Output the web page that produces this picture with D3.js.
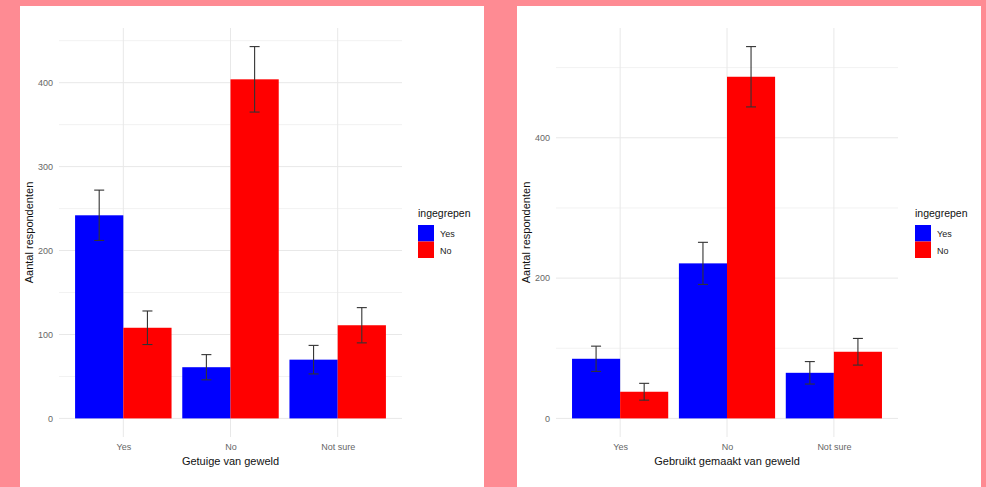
<!DOCTYPE html>
<html>
<head>
<meta charset="utf-8">
<script src="https://cdn.jsdelivr.net/npm/d3@7"></script>
<style>
  html, body { margin: 0; padding: 0; background: #fe8b93; }
  svg { display: block; }
  text { font-family: "Liberation Sans", Arial, sans-serif; }
</style>
</head>
<body>
<svg id="chart" width="986" height="487"></svg>
<script>
// ---- data ----
const categories = ["Yes", "No", "Not sure"];
const groups = ["Yes", "No"];
const legendTitle = "ingegrepen";
const yTitle = "Aantal respondenten";

const leftTitle = "Getuige van geweld";
const leftYes = [242, 61, 70];
const leftNo = [108, 404, 111];
const leftYesErr = [30, 15, 17];
const leftNoErr = [20, 39, 21];
const leftTicks = [0, 100, 200, 300, 400];
const leftMinor = [50, 150, 250, 350, 450];

const rightTitle = "Gebruikt gemaakt van geweld";
const rightYes = [85, 221, 65];
const rightNo = [38, 487, 95];
const rightYesErr = [18, 30, 16];
const rightNoErr = [12, 43, 19];
const rightTicks = [0, 200, 400];
const rightMinor = [100, 300, 500];

const colors = { "Yes": "#0000ff", "No": "#ff0000" };

const svg = d3.select("#chart");

function panel(opts) {
  const g = svg.append("g");
  g.append("rect").attr("x", opts.cardX).attr("y", 6).attr("width", 464).attr("height", 481).attr("fill", "#ffffff");

  const top = 28, bottom = 437;
  const rows = [];
  categories.forEach((c, i) => {
    rows.push({ cat: c, grp: "Yes", v: opts.yes[i], e: opts.yesErr[i] });
    rows.push({ cat: c, grp: "No", v: opts.no[i], e: opts.noErr[i] });
  });
  const maxV = d3.max(rows, d => d.v + d.e);
  const pad = maxV * 0.05;
  const y = d3.scaleLinear().domain([-pad, maxV + pad]).range([bottom, top]);
  const x = d3.scalePoint().domain(categories).range([opts.px0, opts.px1]).padding(0.6);
  const step = x.step();
  const xg = d3.scaleBand().domain(groups).range([-0.45 * step, 0.45 * step]);

  const grid = g.append("g");
  grid.selectAll("line.minor").data(opts.minor.filter(v => y(v) >= top)).join("line")
    .attr("x1", opts.px0).attr("x2", opts.px1)
    .attr("y1", d => y(d)).attr("y2", d => y(d))
    .attr("stroke", "#f2f2f2").attr("stroke-width", 1);
  grid.selectAll("line.major").data(opts.ticks).join("line")
    .attr("x1", opts.px0).attr("x2", opts.px1)
    .attr("y1", d => y(d)).attr("y2", d => y(d))
    .attr("stroke", "#e8e8e8").attr("stroke-width", 1);
  grid.selectAll("line.vert").data(categories).join("line")
    .attr("x1", d => x(d)).attr("x2", d => x(d))
    .attr("y1", top).attr("y2", bottom)
    .attr("stroke", "#e8e8e8").attr("stroke-width", 1);

  g.selectAll("rect.bar").data(rows).join("rect")
    .attr("x", d => x(d.cat) + xg(d.grp))
    .attr("width", xg.bandwidth())
    .attr("y", d => y(d.v))
    .attr("height", d => y(0) - y(d.v))
    .attr("fill", d => colors[d.grp]);

  const capW = 10;
  const eb = g.selectAll("g.eb").data(rows).join("g");
  const cx = d => x(d.cat) + xg(d.grp) + xg.bandwidth() / 2;
  eb.append("line").attr("x1", cx).attr("x2", cx)
    .attr("y1", d => y(d.v + d.e)).attr("y2", d => y(d.v - d.e))
    .attr("stroke", "#333").attr("stroke-width", 1.1);
  eb.append("line").attr("x1", d => cx(d) - capW / 2).attr("x2", d => cx(d) + capW / 2)
    .attr("y1", d => y(d.v + d.e)).attr("y2", d => y(d.v + d.e))
    .attr("stroke", "#333").attr("stroke-width", 1.1);
  eb.append("line").attr("x1", d => cx(d) - capW / 2).attr("x2", d => cx(d) + capW / 2)
    .attr("y1", d => y(d.v - d.e)).attr("y2", d => y(d.v - d.e))
    .attr("stroke", "#333").attr("stroke-width", 1.1);

  const ya = g.append("g").attr("transform", `translate(${opts.px0 - 4},0)`)
    .call(d3.axisLeft(y).tickValues(opts.ticks).tickSize(0).tickPadding(2));
  ya.select(".domain").remove();
  ya.selectAll("text").attr("fill", "#666").style("font-size", "9px");

  const xa = g.append("g").attr("transform", `translate(0,${bottom + 5})`)
    .call(d3.axisBottom(x).tickSize(0).tickPadding(2));
  xa.select(".domain").remove();
  xa.selectAll("text").attr("fill", "#666").style("font-size", "9px");

  g.append("text").attr("x", (opts.px0 + opts.px1) / 2).attr("y", 465)
    .attr("text-anchor", "middle").style("font-size", "11px").attr("fill", "#111").text(opts.title);
  g.append("text").attr("transform", `translate(${opts.yTitleX},${(top + bottom) / 2}) rotate(-90)`)
    .attr("text-anchor", "middle").style("font-size", "11px").attr("fill", "#111").text(yTitle);

  const lg = g.append("g").attr("transform", `translate(${opts.legX},0)`);
  lg.append("text").attr("x", 0).attr("y", 217).style("font-size", "10.5px").attr("fill", "#111").text(legendTitle);
  groups.forEach((k, i) => {
    lg.append("rect").attr("x", 0).attr("y", 225 + i * 16.5).attr("width", 16).attr("height", 16.5).attr("fill", colors[k]);
    lg.append("text").attr("x", 22).attr("y", 237 + i * 16.5).style("font-size", "9px").attr("fill", "#222").text(k);
  });
}

panel({ cardX: 20, px0: 59, px1: 402, yes: leftYes, no: leftNo, yesErr: leftYesErr, noErr: leftNoErr,
  ticks: leftTicks, minor: leftMinor, title: leftTitle, yTitleX: 33, legX: 418 });
panel({ cardX: 517, px0: 556, px1: 898, yes: rightYes, no: rightNo, yesErr: rightYesErr, noErr: rightNoErr,
  ticks: rightTicks, minor: rightMinor, title: rightTitle, yTitleX: 530, legX: 915 });
</script>
</body>
</html>
